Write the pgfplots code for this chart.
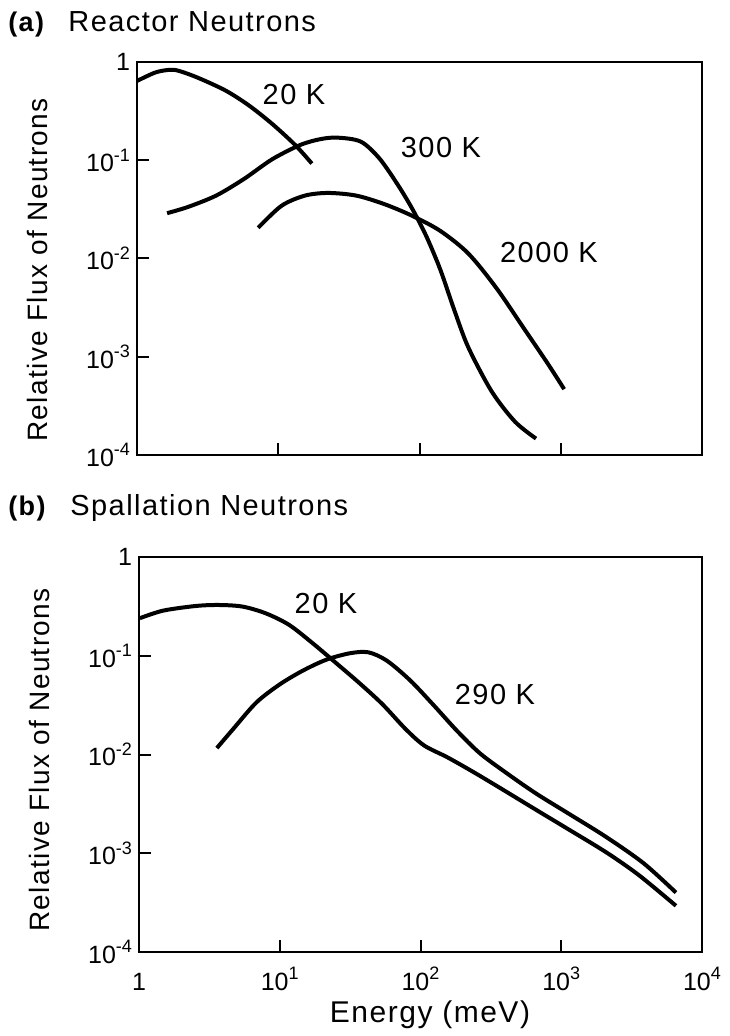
\documentclass[border=0pt]{standalone}
\usepackage{pgfplots}
\pgfplotsset{compat=1.18}
\usepackage{fontspec}
\setmainfont{Liberation Sans}
\newfontfamily\tracked[LetterSpace=5]{Liberation Sans}
\newcommand\sps[1]{\raisebox{0.42em}{\fontsize{9}{9}\selectfont #1}}
\begin{document}
\begin{tikzpicture}
\path[use as bounding box] (0pt,0pt) rectangle (364.5pt,518pt);
% ---------------- panel (a) ----------------
\begin{axis}[at={(68.5pt,290.5pt)}, anchor=south west,
  scale only axis, width=282.5pt, height=196.5pt,
  xmode=log, ymode=log,
  xmin=1, xmax=10000, ymin=0.0001, ymax=1,
  axis line style={line width=1.3pt},
  tick align=inside, major tick length=6pt,
  tick style={black, line width=1pt},
  xminorticks=false, yminorticks=false,
  xtick pos=left, ytick pos=left,
  xtick={10,100,1000}, xticklabels={},
  ytick={0.0001,0.001,0.01,0.1,1},
  yticklabels={10\sps{-4},10\sps{-3},10\sps{-2},10\sps{-1},1},
  tick label style={font=\fontsize{12.5}{13}\selectfont},
  ]
\addplot[black, line width=2pt, smooth] coordinates {(1,0.641) (1.349,0.782) (1.698,0.832) (1.972,0.813) (2.692,0.692) (4.227,0.5129) (6.166,0.3631) (9.057,0.2344) (13.18,0.1429) (17.30,0.0925)};
\addplot[black, line width=2pt, smooth] coordinates {(1.633,0.02891) (2.301,0.03350) (3.631,0.04365) (5.728,0.06457) (9.057,0.1023) (14.29,0.1429) (19.95,0.1641) (26.30,0.1698) (38.46,0.1545) (52.12,0.1040) (70.79,0.05521) (89.13,0.03177) (111.7,0.01687) (140.6,0.007656) (176.6,0.002965) (221.8,0.001242) (324.3,0.0004436) (474.2,0.0002183) (668.3,0.0001469)};
\addplot[black, line width=2pt, smooth] coordinates {(7.211,0.02056) (10.54,0.03436) (15.45,0.04365) (22.59,0.04645) (35.65,0.04365) (56.23,0.03581) (88.92,0.02716) (140.6,0.01905) (221.8,0.01122) (349.9,0.005012) (553.4,0.001905) (809.1,0.0008511) (1057,0.0004677)};
\end{axis}
% ---------------- panel (b) ----------------
\begin{axis}[at={(69.5pt,42pt)}, anchor=south west,
  scale only axis, width=281.5pt, height=197.5pt,
  xmode=log, ymode=log,
  xmin=1, xmax=10000, ymin=0.0001, ymax=1,
  axis line style={line width=1.3pt},
  tick align=inside, major tick length=6pt,
  tick style={black, line width=1pt},
  xminorticks=false, yminorticks=false,
  xtick pos=left, ytick pos=left,
  xtick={1,10,100,1000,10000},
  xticklabels={1,10\sps{1},10\sps{2},10\sps{3},10\sps{4}},
  ytick={0.0001,0.001,0.01,0.1,1},
  yticklabels={10\sps{-4},10\sps{-3},10\sps{-2},10\sps{-1},1},
  tick label style={font=\fontsize{12.5}{13}\selectfont},
  xticklabel style={anchor=base, yshift=-19pt},
  ]
\addplot[black, line width=2pt, smooth] coordinates {(1.014,0.2399) (1.486,0.2864) (2.535,0.3192) (3.707,0.3266) (5.433,0.3148) (7.943,0.2692) (11.64,0.2056) (17.06,0.1346) (25.00,0.08492) (36.56,0.05333) (53.58,0.03236) (78.34,0.01811) (106.2,0.01233) (156.0,0.009333) (246.0,0.006457) (389.0,0.004365) (662.2,0.002754) (1132,0.001738) (2084,0.001023) (3548,0.0006026) (6531,0.0002938)};
\addplot[black, line width=2pt, smooth] coordinates {(3.573,0.01161) (4.667,0.01811) (6.823,0.03365) (10.0,0.05129) (14.62,0.07079) (21.43,0.09120) (31.41,0.1059) (42.56,0.1084) (57.68,0.08913) (84.53,0.05623) (123.9,0.03162) (181.6,0.01738) (265.5,0.01023) (419.8,0.006310) (662.2,0.004027) (1132,0.002512) (2084,0.001462) (3837,0.0007943) (6531,0.0003999)};
\end{axis}
% ---------------- texts ----------------
\node[anchor=base west, inner sep=0pt, font=\fontsize{13.5}{14}\tracked\bfseries] at (4pt,502pt) {(a)};
\node[anchor=base west, inner sep=0pt, font=\fontsize{14.5}{15}\tracked] at (34pt,502pt) {Reactor Neutrons};
\node[anchor=base west, inner sep=0pt, font=\fontsize{13.5}{14}\tracked\bfseries] at (4pt,260pt) {(b)};
\node[anchor=base west, inner sep=0pt, font=\fontsize{14.5}{15}\tracked] at (35pt,260pt) {Spallation Neutrons};
\node[rotate=90, anchor=base, inner sep=0pt, font=\fontsize{14}{15}\tracked] at (23.5pt,383pt) {Relative Flux of Neutrons};
\node[rotate=90, anchor=base, inner sep=0pt, font=\fontsize{14}{15}\tracked] at (24.5pt,138pt) {Relative Flux of Neutrons};
\node[inner sep=0pt, font=\fontsize{15}{16}\tracked] at (215pt,10.5pt) {Energy (meV)};
\node[inner sep=0pt, font=\fontsize{14.5}{15}\tracked] at (147pt,470.5pt) {20 K};
\node[inner sep=0pt, font=\fontsize{14.5}{15}\tracked] at (220.5pt,444pt) {300 K};
\node[inner sep=0pt, font=\fontsize{14.5}{15}\tracked] at (274.5pt,391.5pt) {2000 K};
\node[inner sep=0pt, font=\fontsize{14.5}{15}\tracked] at (163pt,216pt) {20 K};
\node[inner sep=0pt, font=\fontsize{14.5}{15}\tracked] at (247.5pt,170.5pt) {290 K};
\end{tikzpicture}
\end{document}
